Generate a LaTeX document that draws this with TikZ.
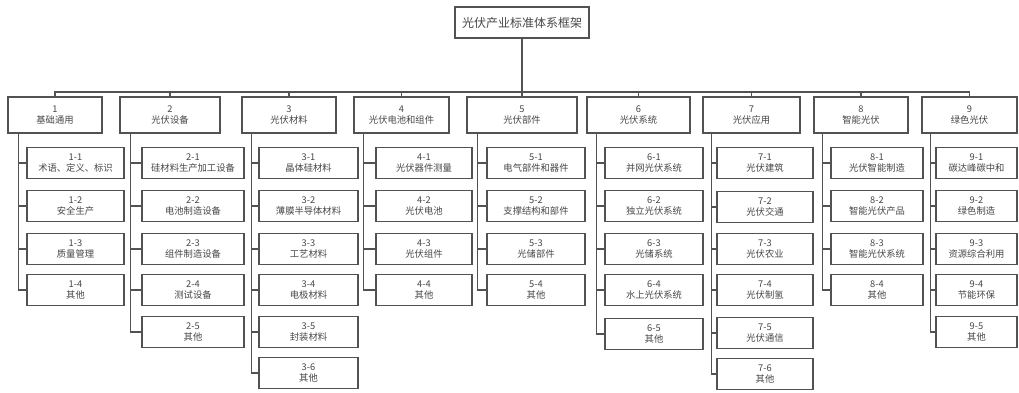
\documentclass[tikz,border=0pt]{standalone}
\usepackage{fontspec}
\setmainfont{Noto Sans CJK SC}
\begin{document}
\begin{tikzpicture}[x=1pt,y=-1pt,
  box/.style={draw=black!68, line width=1.2pt, fill=white, align=center, inner sep=0pt,
    font=\fontsize{9.3}{11.5}\selectfont, text=black!72},
  topbox/.style={box, minimum height=36pt},
  subbox/.style={box, minimum height=31pt},
  link/.style={draw=black!68, line width=1.2pt}]
\useasboundingbox (0,0) rectangle (1019,392);
% root
\node[box, minimum width=134pt, minimum height=31pt, font=\fontsize{12}{14}\selectfont] (root) at (522,22.5) {光伏产业标准体系框架};
\coordinate (bus) at (522,92);
% level 1
\node[topbox, minimum width=94pt]  (c1) at (55,115)    {1\\基础通用};
\node[topbox, minimum width=100pt] (c2) at (170,115)   {2\\光伏设备};
\node[topbox, minimum width=94pt]  (c3) at (289,115)   {3\\光伏材料};
\node[topbox, minimum width=95pt]  (c4) at (401.5,115) {4\\光伏电池和组件};
\node[topbox, minimum width=110pt] (c5) at (522,115)   {5\\光伏部件};
\node[topbox, minimum width=103pt] (c6) at (638.5,115) {6\\光伏系统};
\node[topbox, minimum width=97pt]  (c7) at (751.5,115) {7\\光伏应用};
\node[topbox, minimum width=94pt]  (c8) at (861,115)   {8\\智能光伏};
\node[topbox, minimum width=95pt]  (c9) at (969.5,115) {9\\绿色光伏};
% column 1
\node[subbox, minimum width=97pt] (c1a) at (75.5,163) {1-1\\术语、定义、标识};
\node[subbox, minimum width=97pt] (c1b) at (75.5,206) {1-2\\安全生产};
\node[subbox, minimum width=97pt] (c1c) at (75.5,249) {1-3\\质量管理};
\node[subbox, minimum width=97pt] (c1d) at (75.5,290) {1-4\\其他};
% column 2
\node[subbox, minimum width=102pt] (c2a) at (193,163) {2-1\\硅材料生产加工设备};
\node[subbox, minimum width=102pt] (c2b) at (193,206) {2-2\\电池制造设备};
\node[subbox, minimum width=102pt] (c2c) at (193,249) {2-3\\组件制造设备};
\node[subbox, minimum width=102pt] (c2d) at (193,290) {2-4\\测试设备};
\node[subbox, minimum width=102pt] (c2e) at (193,332) {2-5\\其他};
% column 3
\node[subbox, minimum width=99pt] (c3a) at (308.5,163) {3-1\\晶体硅材料};
\node[subbox, minimum width=99pt] (c3b) at (308.5,206) {3-2\\薄膜半导体材料};
\node[subbox, minimum width=99pt] (c3c) at (308.5,249) {3-3\\工艺材料};
\node[subbox, minimum width=99pt] (c3d) at (308.5,290) {3-4\\电极材料};
\node[subbox, minimum width=99pt] (c3e) at (308.5,332) {3-5\\封装材料};
\node[subbox, minimum width=99pt] (c3f) at (308.5,373) {3-6\\其他};
% column 4
\node[subbox, minimum width=96pt] (c4a) at (424,163) {4-1\\光伏器件测量};
\node[subbox, minimum width=96pt] (c4b) at (424,206) {4-2\\光伏电池};
\node[subbox, minimum width=96pt] (c4c) at (424,249) {4-3\\光伏组件};
\node[subbox, minimum width=96pt] (c4d) at (424,290) {4-4\\其他};
% column 5
\node[subbox, minimum width=98pt] (c5a) at (536,163) {5-1\\电气部件和器件};
\node[subbox, minimum width=98pt] (c5b) at (536,206) {5-2\\支撑结构和部件};
\node[subbox, minimum width=98pt] (c5c) at (536,249) {5-3\\光储部件};
\node[subbox, minimum width=98pt] (c5d) at (536,290) {5-4\\其他};
% column 6
\node[subbox, minimum width=98pt] (c6a) at (654,163) {6-1\\并网光伏系统};
\node[subbox, minimum width=98pt] (c6b) at (654,206) {6-2\\独立光伏系统};
\node[subbox, minimum width=98pt] (c6c) at (654,249) {6-3\\光储系统};
\node[subbox, minimum width=98pt] (c6d) at (654,290) {6-4\\水上光伏系统};
\node[subbox, minimum width=98pt] (c6e) at (654,334) {6-5\\其他};
% column 7
\node[subbox, minimum width=96pt] (c7a) at (765,163) {7-1\\光伏建筑};
\node[subbox, minimum width=96pt] (c7b) at (765,207) {7-2\\光伏交通};
\node[subbox, minimum width=96pt] (c7c) at (765,249) {7-3\\光伏农业};
\node[subbox, minimum width=96pt] (c7d) at (765,290) {7-4\\光伏制氢};
\node[subbox, minimum width=96pt] (c7e) at (765,333) {7-5\\光伏通信};
\node[subbox, minimum width=96pt] (c7f) at (765,374) {7-6\\其他};
% column 8
\node[subbox, minimum width=92pt] (c8a) at (877,163) {8-1\\光伏智能制造};
\node[subbox, minimum width=92pt] (c8b) at (877,206) {8-2\\智能光伏产品};
\node[subbox, minimum width=92pt] (c8c) at (877,249) {8-3\\智能光伏系统};
\node[subbox, minimum width=92pt] (c8d) at (877,290) {8-4\\其他};
% column 9
\node[subbox, minimum width=81pt] (c9a) at (976.5,163) {9-1\\碳达峰碳中和};
\node[subbox, minimum width=81pt] (c9b) at (976.5,206) {9-2\\绿色制造};
\node[subbox, minimum width=81pt] (c9c) at (976.5,249) {9-3\\资源综合利用};
\node[subbox, minimum width=81pt] (c9d) at (976.5,290) {9-4\\节能环保};
\node[subbox, minimum width=81pt] (c9e) at (976.5,332) {9-5\\其他};
% bus
\draw[link] (root.south) -- (bus);
\draw[link] (c1.north) -- (c1.north |- bus) -- (c9.north |- bus) -- (c9.north);
\foreach \i in {2,...,8} \draw[link] (c\i.north) -- (c\i.north |- bus);
% trunks
\foreach \k in {a,b,c,d} \draw[link] ([xshift=11pt]c1.south west) |- (c1\k.west);
\foreach \k in {a,b,c,d,e} \draw[link] ([xshift=11pt]c2.south west) |- (c2\k.west);
\foreach \k in {a,b,c,d,e,f} \draw[link] ([xshift=10pt]c3.south west) |- (c3\k.west);
\foreach \k in {a,b,c,d} \draw[link] ([xshift=10pt]c4.south west) |- (c4\k.west);
\foreach \k in {a,b,c,d} \draw[link] ([xshift=11pt]c5.south west) |- (c5\k.west);
\foreach \k in {a,b,c,d,e} \draw[link] ([xshift=10pt]c6.south west) |- (c6\k.west);
\foreach \k in {a,b,c,d,e,f} \draw[link] ([xshift=9pt]c7.south west) |- (c7\k.west);
\foreach \k in {a,b,c,d} \draw[link] ([xshift=9pt]c8.south west) |- (c8\k.west);
\foreach \k in {a,b,c,d,e} \draw[link] ([xshift=9pt]c9.south west) |- (c9\k.west);
\end{tikzpicture}
\end{document}
